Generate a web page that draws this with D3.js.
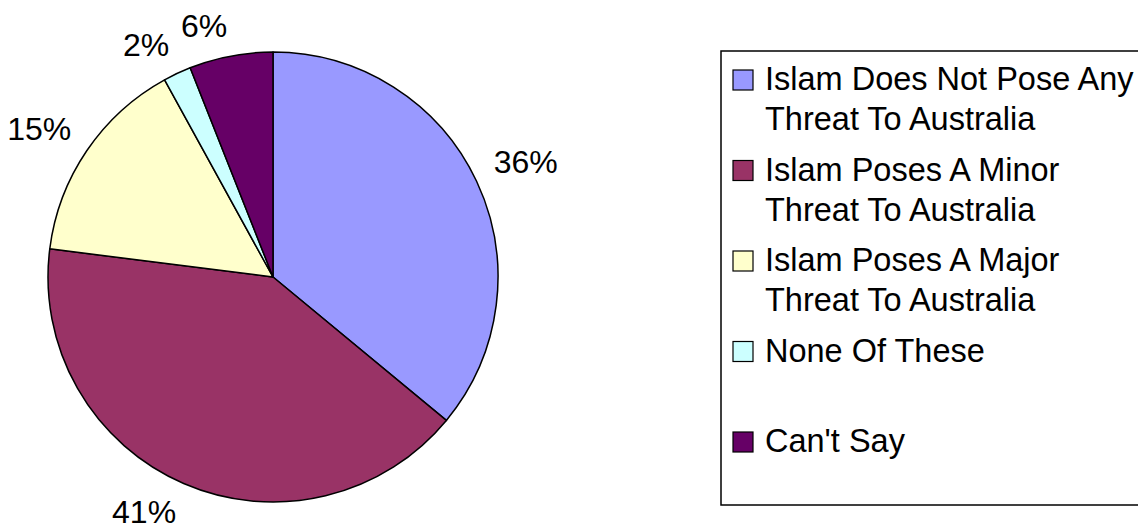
<!DOCTYPE html>
<html>
<head>
<meta charset="utf-8">
<script src="https://cdn.jsdelivr.net/npm/d3@7"></script>
<style>
  body { margin: 0; background: #fff; }
  text { font-family: Arial, "Liberation Sans", sans-serif; }
</style>
</head>
<body>
<div id="chart"></div>
<script>
"use strict";

const categories = [
  "Islam Does Not Pose Any Threat To Australia",
  "Islam Poses A Minor Threat To Australia",
  "Islam Poses A Major Threat To Australia",
  "None Of These",
  "Can't Say"
];
const legendLines = [
  ["Islam Does Not Pose Any", "Threat To Australia"],
  ["Islam Poses A Minor", "Threat To Australia"],
  ["Islam Poses A Major", "Threat To Australia"],
  ["None Of These"],
  ["Can't Say"]
];
const values = [36, 41, 15, 2, 6];
const colors = ["#9999FF", "#993366", "#FFFFCC", "#CCFFFF", "#660066"];

const width = 1138;
const height = 529;

const svg = d3
  .select("#chart")
  .append("svg")
  .attr("width", width)
  .attr("height", height);

// pie
const cx = 273;
const cy = 277;
const radius = 225;

const pie = d3.pie().sort(null).value((d) => d);
const arcs = pie(values);

const arc = d3.arc().innerRadius(0).outerRadius(radius);
// the label box corner nearest the pie sits on this radius
const labelArc = d3.arc().innerRadius(244).outerRadius(244);

const g = svg.append("g").attr("transform", `translate(${cx},${cy})`);

g.selectAll(".slice")
  .data(arcs)
  .enter()
  .append("path")
  .attr("class", "slice")
  .attr("d", arc)
  .attr("fill", (d, i) => colors[i])
  .attr("stroke", "#000")
  .attr("stroke-width", 1.5)
  .attr("stroke-linejoin", "round");

// percentage labels outside the pie
const fontSize = 32;
const labelBaseline = (d) => {
  const y = labelArc.centroid(d)[1];
  const base = y < 0 ? y : y + 0.72 * fontSize;
  // keep the descent inside the picture
  return Math.min(base, height - cy - 0.2 * fontSize);
};

g.selectAll(".label")
  .data(arcs)
  .enter()
  .append("text")
  .attr("class", "label")
  .attr("x", (d) => labelArc.centroid(d)[0])
  .attr("y", labelBaseline)
  .attr("text-anchor", (d) => (labelArc.centroid(d)[0] < 0 ? "end" : "start"))
  .attr("font-size", `${fontSize}px`)
  .attr("fill", "#000")
  .text((d) => `${d.data}%`);

// legend
const legendX = 721;
const legendY = 51;

svg
  .append("rect")
  .attr("x", legendX)
  .attr("y", legendY)
  .attr("width", 440)
  .attr("height", 454)
  .attr("fill", "#fff")
  .attr("stroke", "#000")
  .attr("stroke-width", 1.5);

const legendY0 = d3
  .scaleLinear()
  .domain([0, categories.length - 1])
  .range([90, 452]);

const item = svg
  .selectAll(".legend-item")
  .data(categories)
  .enter()
  .append("g")
  .attr("class", "legend-item")
  .attr("transform", (d, i) => `translate(0,${legendY0(i)})`);

item
  .append("rect")
  .attr("x", 733)
  .attr("y", -20)
  .attr("width", 20)
  .attr("height", 20)
  .attr("fill", (d, i) => colors[i])
  .attr("stroke", "#000")
  .attr("stroke-width", 1.2);

item
  .append("text")
  .attr("x", 765)
  .attr("y", 0)
  .attr("font-size", "32.5px")
  .attr("fill", "#000")
  .selectAll("tspan")
  .data((d, i) => legendLines[i])
  .enter()
  .append("tspan")
  .attr("x", 765)
  .attr("dy", (d, j) => (j === 0 ? 0 : 40))
  .text((d) => d);
</script>
</body>
</html>
